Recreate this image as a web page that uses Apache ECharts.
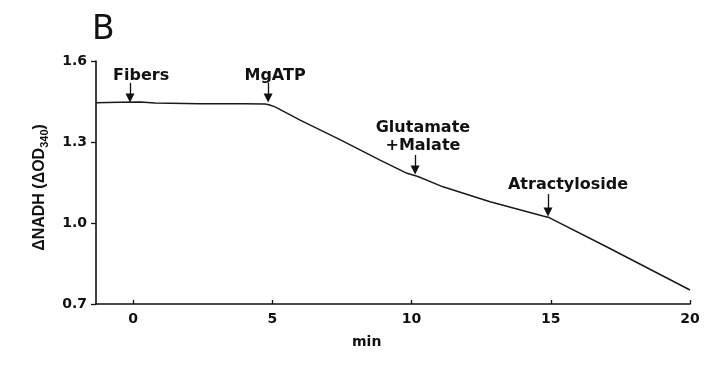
<!DOCTYPE html>
<html>
<head>
<meta charset="utf-8">
<script src="https://cdn.jsdelivr.net/npm/echarts@6/dist/echarts.min.js"></script>
<style>
  html, body { margin: 0; padding: 0; background: #ffffff; }
  #chart { width: 720px; height: 372px; }
</style>
</head>
<body>
<div id="chart"></div>
<script>
// NADH trace: time (min) and ΔOD340 readings
const traceTime = [-1.33, -0.47, 0.25, 0.79, 2.41, 4.0, 4.74, 4.88, 5.10, 6.00, 7.43, 8.87, 9.84, 10.23, 11.13, 12.82, 14.72, 14.94, 17.02, 20.0];
const traceNADH = [1.445, 1.447, 1.448, 1.444, 1.442, 1.442, 1.441, 1.438, 1.430, 1.381, 1.309, 1.233, 1.184, 1.172, 1.134, 1.079, 1.026, 1.020, 0.911, 0.752];

// Additions: name, time of addition, label level, arrow top and tip levels
const addLabels = ['Fibers', 'MgATP', 'Glutamate\n+Malate', 'Atractyloside'];
const addLabelTime = [0.29, 5.10, 10.41, 15.62];
const addLabelLevel = [1.544, 1.544, 1.319, 1.141];
const addArrowTime = [-0.11, 4.85, 10.13, 14.90];
const addArrowTop = [1.519, 1.519, 1.252, 1.107];
const addArrowTip = [1.463, 1.463, 1.196, 1.041];

// Axis ticks
const xTicks = [0, 5, 10, 15, 20];
const yTicks = [0.7, 1.0, 1.3, 1.6];

const ink = '#111111';
const boldFont = { fontFamily: 'DejaVu Sans', fontWeight: 'bold', color: ink };

const chart = echarts.init(document.getElementById('chart'), null, { renderer: 'canvas' });

chart.setOption({
  animation: false,
  backgroundColor: '#ffffff',
  grid: { left: 96, right: 30, top: 61, bottom: 68, containLabel: false },
  xAxis: {
    type: 'value',
    min: -1.33,
    max: 20,
    splitLine: { show: false },
    axisLine: { onZero: false, lineStyle: { color: ink, width: 1.6 } },
    axisTick: { show: true, inside: true, length: 4, customValues: xTicks, lineStyle: { color: ink, width: 1.3 } },
    axisLabel: { customValues: xTicks, margin: 8, fontSize: 14, ...boldFont }
  },
  yAxis: {
    type: 'value',
    min: 0.7,
    max: 1.6,
    splitLine: { show: false },
    axisLine: { show: true, onZero: false, lineStyle: { color: ink, width: 1.6 } },
    axisTick: { show: true, inside: false, length: 5, customValues: yTicks, lineStyle: { color: ink, width: 1.3 } },
    axisLabel: { customValues: yTicks, margin: 9, fontSize: 14, ...boldFont, formatter: v => v.toFixed(1) },
    name: '{a|ΔNADH (ΔOD}{s|340}{a|)}',
    nameLocation: 'middle',
    nameRotate: 90,
    nameGap: 46,
    nameTextStyle: {
      padding: [0, 10, 0, 0],
      rich: {
        a: { fontFamily: 'Liberation Sans', fontWeight: 'bold', fontSize: 16, color: ink, lineHeight: 20, verticalAlign: 'middle' },
        s: { fontFamily: 'Liberation Sans', fontWeight: 'bold', fontSize: 11, color: ink, lineHeight: 11, verticalAlign: 'bottom' }
      }
    }
  },
  graphic: [
    { type: 'text', left: 92, top: 14, style: { text: 'B', fontFamily: 'DejaVu Sans', fontSize: 33, fill: ink } },
    { type: 'text', left: 352, top: 335, style: { text: 'min', fontFamily: 'DejaVu Sans', fontWeight: 'bold', fontSize: 14, fill: ink } }
  ],
  series: [
    {
      name: 'NADH',
      type: 'line',
      data: traceTime.map((t, i) => [t, traceNADH[i]]),
      showSymbol: false,
      symbol: 'none',
      smooth: false,
      lineStyle: { color: '#1a1a1a', width: 1.5 },
      markLine: {
        silent: true,
        symbol: ['none', 'triangle'],
        symbolSize: [9, 9],
        symbolRotate: 180,
        label: { show: false },
        lineStyle: { color: ink, width: 1.3, type: 'solid' },
        emphasis: { disabled: true },
        data: addArrowTime.map((t, i) => [
          { coord: [t, addArrowTop[i]] },
          { coord: [t, addArrowTip[i]] }
        ])
      }
    },
    {
      name: 'additions',
      type: 'scatter',
      data: addLabels.map((s, i) => [addLabelTime[i], addLabelLevel[i], s]),
      symbolSize: 0,
      silent: true,
      itemStyle: { opacity: 1 },
      label: {
        show: true,
        position: 'inside',
        formatter: p => p.data[2],
        fontSize: 16,
        lineHeight: 18,
        align: 'center',
        opacity: 1,
        ...boldFont
      }
    }
  ]
});
</script>
</body>
</html>
